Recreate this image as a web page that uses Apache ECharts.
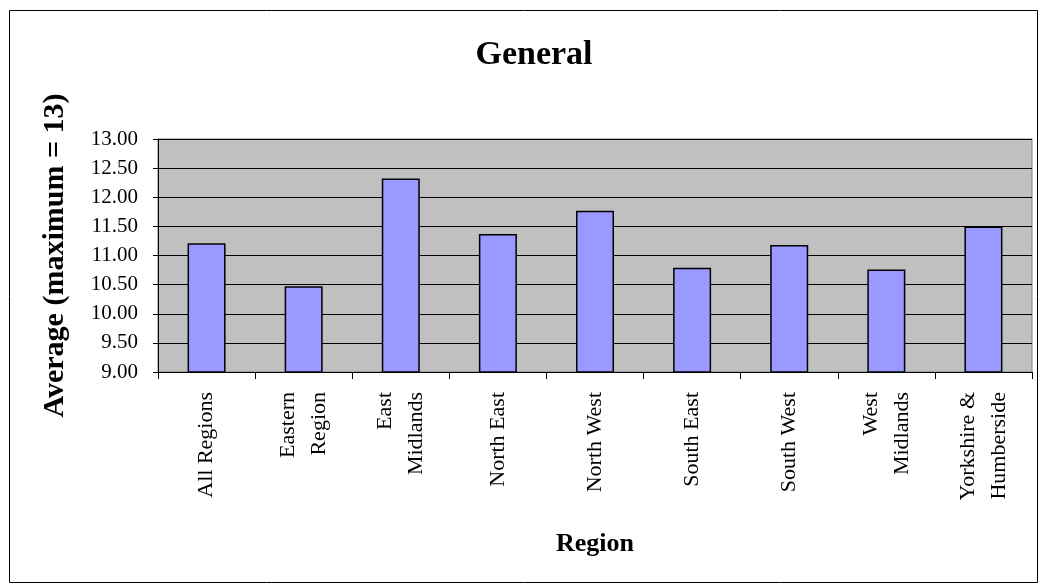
<!DOCTYPE html>
<html>
<head>
<meta charset="utf-8">
<script src="https://cdn.jsdelivr.net/npm/echarts@6/dist/echarts.min.js"></script>
<style>
html,body{margin:0;padding:0;background:#fff;}
#chart{width:1042px;height:586px;}
</style>
</head>
<body>
<div id="chart"></div>
<script>
const categories = ['All Regions','Eastern\nRegion','East\nMidlands','North East','North West','South East','South West','West\nMidlands','Yorkshire &\nHumberside'];
const averages = [11.21, 10.47, 12.32, 11.37, 11.77, 10.79, 11.18, 10.76, 11.50];
const yTicks = {min: 9, max: 13, interval: 0.5};
const titleText = 'General';
const xName = 'Region';
const yName = 'Average (maximum = 13)';

const FONT = '"Liberation Serif", "DejaVu Serif", serif';
const chart = echarts.init(document.getElementById('chart'), null, {renderer:'canvas'});
chart.setOption({
  animation: false,
  backgroundColor: '#ffffff',
  graphic: [{
    type: 'rect', left: 7, top: 8, z: -10,
    shape: {width: 1028, height: 572},
    style: {fill: 'none', stroke: '#000', lineWidth: 1}
  }],
  title: {
    text: titleText, left: 529, top: 33, textAlign: 'center',
    textStyle: {fontFamily: FONT, fontWeight: 'bold', fontSize: 34, color: '#000'}
  },
  grid: {
    left: 158, right: 10, top: 139, bottom: 214,
    show: true, backgroundColor: '#c0c0c0', borderColor: '#808080', borderWidth: 1
  },
  xAxis: {
    type: 'category', data: categories,
    name: xName, nameLocation: 'middle', nameGap: 159,
    nameTextStyle: {fontFamily: FONT, fontWeight: 'bold', fontSize: 26, color: '#000'},
    axisLine: {lineStyle: {color: '#000', width: 1}},
    axisTick: {show: true, length: 7, lineStyle: {color: '#000'}},
    axisLabel: {rotate: 90, margin: 20, fontFamily: FONT, fontSize: 22, lineHeight: 31, color: '#000', interval: 0}
  },
  yAxis: {
    type: 'value', min: yTicks.min, max: yTicks.max, interval: yTicks.interval,
    name: yName, nameLocation: 'middle', nameGap: 88, nameRotate: 90,
    nameTextStyle: {fontFamily: FONT, fontWeight: 'bold', fontSize: 30, color: '#000'},
    axisLine: {show: true, lineStyle: {color: '#000', width: 1}},
    axisTick: {show: true, length: 5, lineStyle: {color: '#000'}},
    axisLabel: {margin: 20, fontFamily: FONT, fontSize: 21, color: '#000', formatter: v => v.toFixed(2)},
    splitLine: {show: true, lineStyle: {color: '#000', width: 1}}
  },
  series: [{
    type: 'bar', data: averages, barWidth: 38,
    itemStyle: {color: '#9999ff', borderColor: '#000', borderWidth: 1.5}
  }]
});
</script>
</body>
</html>
